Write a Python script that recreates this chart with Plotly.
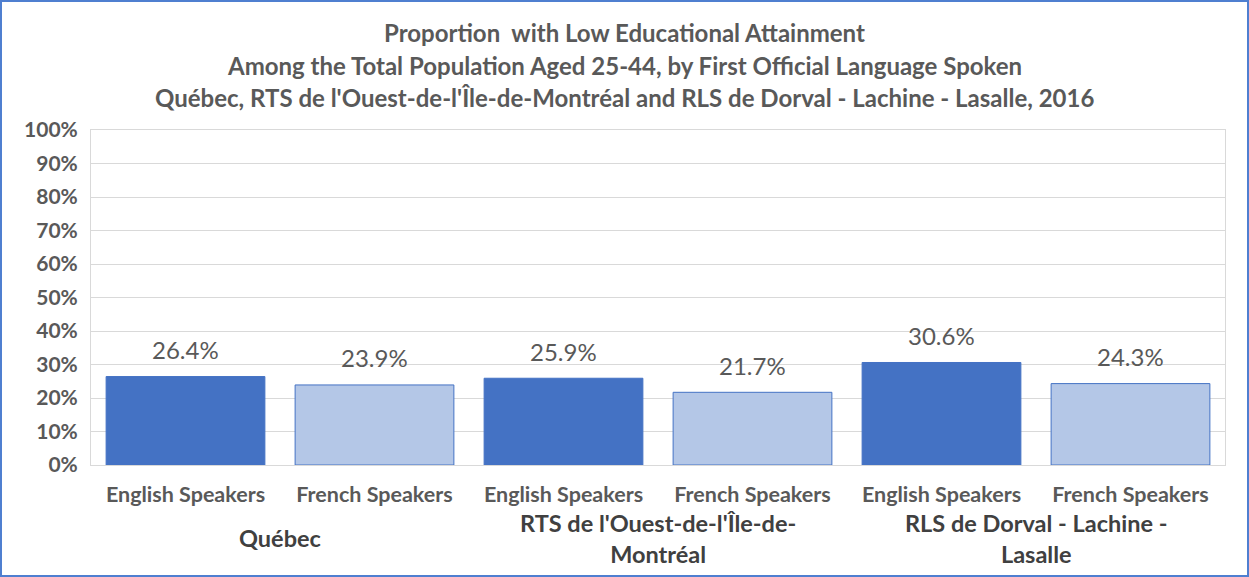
import plotly.graph_objects as go

regions = ["Québec", "RTS de l'Ouest-de-l'Île-de-<br>Montréal", "RLS de Dorval - Lachine -<br>Lasalle"]
speakers = ["English Speakers", "French Speakers"]
values = [26.4, 23.9, 25.9, 21.7, 30.6, 24.3]
colors = {"English Speakers": "#4472C4", "French Speakers": "#B4C7E7"}

title_lines = [
    "Proportion  with Low Educational Attainment",
    "Among the Total Population Aged 25-44, by First Official Language Spoken",
    "Québec, RTS de l'Ouest-de-l'Île-de-Montréal and RLS de Dorval - Lachine - Lasalle, 2016",
]

W, H = 1249, 577
ml, mr, mt, mb = 91, 24, 130, 112
pw, ph = W - ml - mr, H - mt - mb

FONT = "Lato"

xs, labels, cols = [], [], []
i = 0
for r in regions:
    for s in speakers:
        xs.append(i)
        labels.append("<b>" + s + "</b>")
        cols.append(colors[s])
        i += 1

fig = go.Figure()
fig.add_trace(go.Bar(
    x=xs, y=values, width=0.84,
    marker=dict(color=cols, line=dict(color="#4472C4", width=1)),
    hoverinfo="skip", showlegend=False,
))

annotations = []
for x, v in zip(xs, values):
    annotations.append(dict(x=x, y=v, xref="x", yref="y", text=f"{v:.1f}%",
                            showarrow=False, yanchor="middle", yshift=27,
                            font=dict(family=FONT, size=24, color="#595959")))
for k, r in enumerate(regions):
    annotations.append(dict(x=2 * k + 0.5, y=0, xref="x", yref="paper", text="<b>" + r + "</b>",
                            showarrow=False, yanchor="middle", yshift=-73,
                            font=dict(family=FONT, size=23.5, color="#404040")))
title_y = [32.5, 65, 97.5]
for t, yp in zip(title_lines, title_y):
    annotations.append(dict(x=(W / 2 - ml) / pw, y=1 + (mt - yp) / ph, xref="paper", yref="paper",
                            xanchor="center", yanchor="middle", text="<b>" + t + "</b>",
                            showarrow=False, font=dict(family=FONT, size=24, color="#595959")))

fig.update_layout(
    width=W, height=H,
    margin=dict(l=ml, r=mr, t=mt, b=mb),
    paper_bgcolor="white", plot_bgcolor="white",
    annotations=annotations,
    xaxis=dict(tickmode="array", tickvals=xs, ticktext=labels, range=[-0.5, 5.5],
               showgrid=False, showline=True, linecolor="#D9D9D9", mirror=True,
               ticks="outside", ticklen=10, tickcolor="rgba(0,0,0,0)",
               tickfont=dict(family=FONT, size=21.5, color="#595959")),
    yaxis=dict(range=[0, 100], dtick=10, ticksuffix="%", showgrid=True, gridcolor="#D9D9D9",
               showline=True, linecolor="#D9D9D9", mirror=True, ticks="outside", ticklen=8,
               tickcolor="rgba(0,0,0,0)", zeroline=False,
               tickfont=dict(family=FONT, size=21, color="#595959"), tickprefix="<b>"),
    shapes=[dict(type="rect", xref="paper", yref="paper",
                 x0=(1 - ml) / pw, x1=(W - 1 - ml) / pw,
                 y0=-(mb - 1) / ph, y1=1 + (mt - 1) / ph,
                 line=dict(color="#4F7FD0", width=2), layer="below")],
)
fig.write_html("out.html", config={"displayModeBar": False},
               post_script="document.body.style.margin='0';document.body.style.overflow='hidden';")
